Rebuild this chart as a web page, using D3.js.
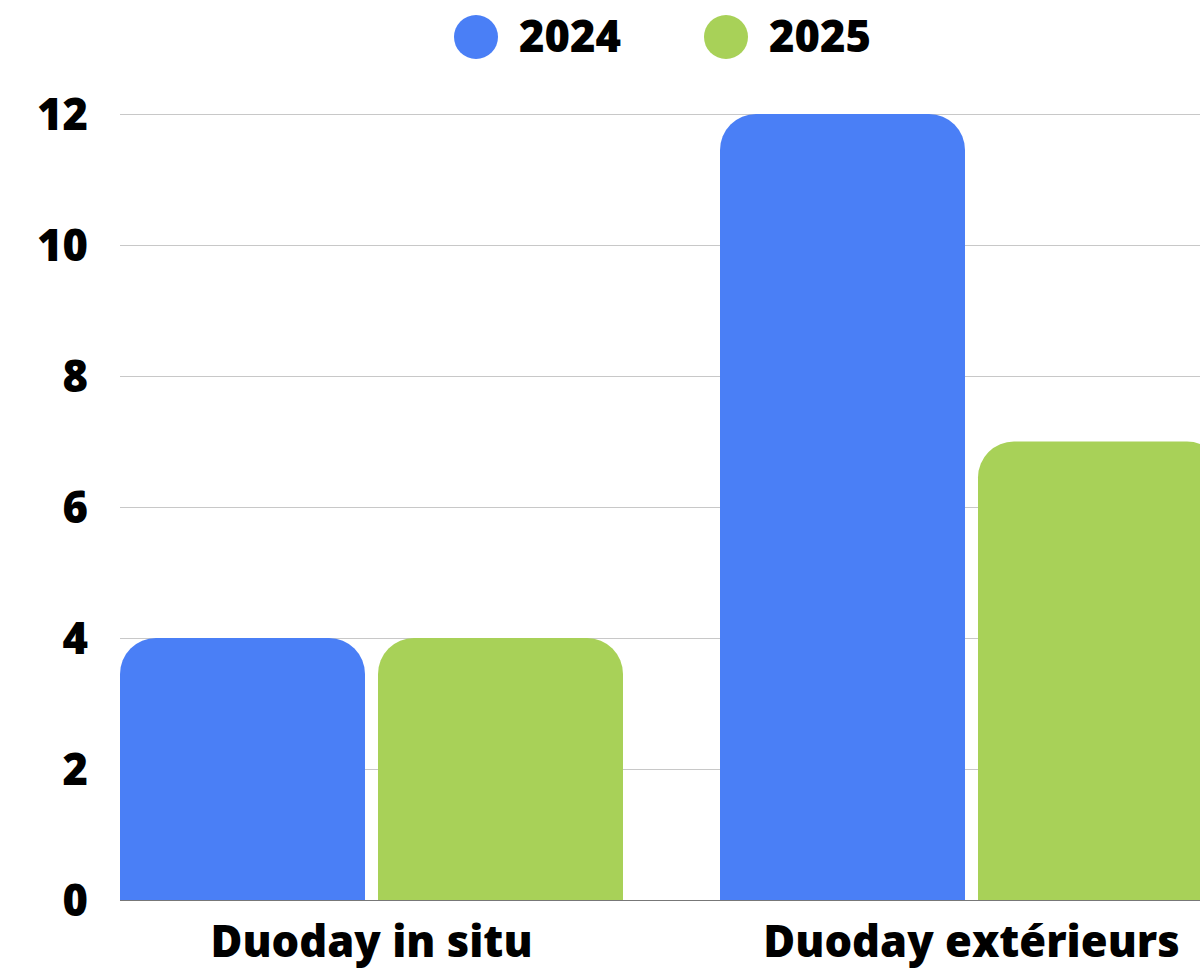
<!DOCTYPE html>
<html>
<head>
<meta charset="utf-8">
<script src="https://cdn.jsdelivr.net/npm/d3@7"></script>
<style>
  body { margin: 0; background: #fff; overflow: hidden; }
  text { font-family: "Open Sans", "Noto Sans", sans-serif; font-weight: 800; fill: #000; }
</style>
</head>
<body>
<div class="chart"></div>
<script>
var categories = ["Duoday in situ", "Duoday extérieurs"];
var seriesNames = ["2024", "2025"];
var values2024 = [4, 12];
var values2025 = [4, 7];
var yTicks = [0, 2, 4, 6, 8, 10, 12];
var colors = ["#4a7ff6", "#a8d158"];

var svgWidth = 1200;
var svgHeight = 968;

var svg = d3.select(".chart")
    .append("svg")
    .attr("width", svgWidth)
    .attr("height", svgHeight);

// rows for each category
var rows = categories.map(function(c, i) {
    return { category: c, values: [values2024[i], values2025[i]] };
});

var x0 = d3.scaleBand()
    .domain(categories)
    .range([120, 1223])
    .paddingInner(97 / 600)
    .paddingOuter(0);

var x1 = d3.scaleBand()
    .domain(seriesNames)
    .range([0, x0.bandwidth()])
    .paddingInner(13 / 258);

var y = d3.scaleLinear()
    .domain([0, 12])
    .range([900, 114]);

// gridlines
svg.append("g")
    .selectAll("line")
    .data(yTicks.slice(1))
    .enter()
    .append("line")
    .attr("x1", 120)
    .attr("x2", svgWidth)
    .attr("y1", d => y(d) + 0.5)
    .attr("y2", d => y(d) + 0.5)
    .attr("stroke", "#c8c8c8")
    .attr("stroke-width", 1);

// y axis labels
svg.append("g")
    .selectAll("text")
    .data(yTicks)
    .enter()
    .append("text")
    .attr("x", 88)
    .attr("y", d => y(d) + 16)
    .attr("text-anchor", "end")
    .style("font-size", "43.5px")
    .text(d => d);

// bars with rounded top corners
var r = 36;
function barPath(x, yTop, w, yBottom) {
    var rr = Math.min(r, (yBottom - yTop), w / 2);
    return "M" + x + "," + yBottom +
        "V" + (yTop + rr) +
        "A" + rr + "," + rr + " 0 0 1 " + (x + rr) + "," + yTop +
        "H" + (x + w - rr) +
        "A" + rr + "," + rr + " 0 0 1 " + (x + w) + "," + (yTop + rr) +
        "V" + yBottom + "Z";
}

var groups = svg.append("g")
    .selectAll("g")
    .data(rows)
    .enter()
    .append("g")
    .attr("transform", d => "translate(" + x0(d.category) + ",0)");

groups.selectAll("path")
    .data(d => d.values.map((v, i) => ({ key: seriesNames[i], value: v, idx: i })))
    .enter()
    .append("path")
    .attr("d", d => barPath(x1(d.key), y(d.value), x1.bandwidth(), y(0)))
    .attr("fill", d => colors[d.idx]);

// baseline
svg.append("line")
    .attr("x1", 120)
    .attr("x2", svgWidth)
    .attr("y1", y(0) + 0.5)
    .attr("y2", y(0) + 0.5)
    .attr("stroke", "#777")
    .attr("stroke-width", 1);

// category labels
svg.append("g")
    .selectAll("text")
    .data(categories)
    .enter()
    .append("text")
    .attr("x", d => x0(d) + x0.bandwidth() / 2)
    .attr("y", 957)
    .attr("text-anchor", "middle")
    .style("font-size", "43.5px")
    .text(d => d);

// legend
var legendX = [476, 726];
var legend = svg.append("g")
    .selectAll("g")
    .data(seriesNames)
    .enter()
    .append("g")
    .attr("transform", (d, i) => "translate(" + legendX[i] + ",37)");

legend.append("circle")
    .attr("r", 22)
    .attr("fill", (d, i) => colors[i]);

legend.append("text")
    .attr("x", 43)
    .attr("y", 15)
    .style("font-size", "43.5px")
    .text(d => d);
</script>
</body>
</html>
